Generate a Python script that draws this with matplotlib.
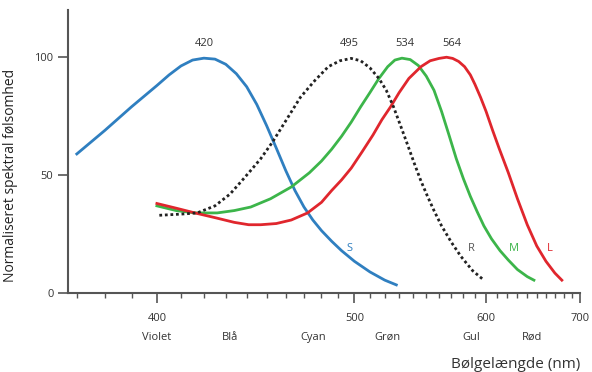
import matplotlib
matplotlib.use('Agg')
import matplotlib.pyplot as plt

plt.rcParams['font.family'] = ['Open Sans', 'DejaVu Sans']

# wavelength (nm) and normalised sensitivity
s_nm = [370, 380, 390, 400, 405, 410, 415, 420, 425, 430, 435, 440, 445, 450, 455, 460, 465, 470, 475, 480, 486, 492, 500, 510, 520, 528]
s_val = [59, 69, 79, 88, 92.5, 96.3, 98.8, 99.6, 99.2, 97, 93, 87.5, 80, 71, 61.5, 52, 43.5, 36.5, 31, 26.5, 22, 18, 13.5, 9, 5.5, 3.5]

r_nm = [401, 410, 417, 425, 432, 438, 442, 447, 453, 460, 468, 476, 484, 491, 498, 504, 510, 516, 521, 526, 531, 536, 541, 546, 551, 556, 562, 570, 578, 588, 598]
r_val = [33, 33.5, 34, 37, 42, 48, 52, 57, 64, 73, 83, 90, 96, 98.5, 99.5, 98.5, 95.5, 91, 86, 79, 71, 63, 55, 47.5, 41, 35, 28.5, 21.5, 15.5, 9.5, 5.5]

m_nm = [400, 408, 416, 426, 434, 442, 452, 463, 473, 480, 486, 492, 498, 504, 510, 516, 522, 527, 532, 538, 544, 550, 556, 562, 568, 574, 580, 586, 592, 598, 605, 613, 621, 630, 640, 647]
m_val = [37, 35, 34, 34, 35, 36.5, 40, 45, 51, 56, 61, 66.5, 72.5, 79, 85, 91, 96, 98.8, 99.6, 99, 96.5, 92, 86, 77, 67, 57, 48.5, 41, 34.5, 28.5, 23, 18, 14, 10, 7, 5.5]

l_nm = [400, 408, 416, 425, 434, 441, 447, 455, 463, 472, 480, 486, 492, 498, 505, 512, 518, 524, 530, 537, 546, 553, 560, 566, 571, 576, 581, 586, 590, 595, 600, 606, 612, 621, 630, 640, 650, 660, 670, 678]
l_val = [38, 36, 34, 32, 30, 29, 29, 29.5, 31, 34, 38.5, 43.5, 48, 53, 60, 67, 73.5, 79, 85, 91, 96, 98.5, 99.5, 100, 99.5, 98.2, 96, 92.5, 88.5, 83, 77, 69, 61.5, 51, 40, 29, 20, 13.5, 8.5, 5.5]

peak_labels = ['420', '495', '534', '564']
peak_x = [420, 497, 534, 570]

curve_names = ['S', 'R', 'M', 'L']
curve_name_x = [497, 587, 626, 664]

color_names = ['Violet', 'Blå', 'Cyan', 'Grøn', 'Gul', 'Rød']
color_x = [400, 432, 475, 522, 587, 645]

blue = '#2f7fc0'
green = '#3cb54a'
red = '#e0262d'
grey = '#555555'

fig = plt.figure(figsize=(5.92, 3.72), dpi=100)
ax = fig.add_axes([0.115, 0.212, 0.865, 0.761])

# the wavelength axis is spaced like 1/lambda
ax.set_xscale('function', functions=(lambda x: -1.0 / x, lambda y: -1.0 / y))

ax.plot(s_nm, s_val, color=blue, lw=2)
ax.plot(m_nm, m_val, color=green, lw=2)
ax.plot(l_nm, l_val, color=red, lw=2)
ax.plot(r_nm, r_val, color='#222222', lw=2, linestyle=(0, (1, 1)))

for lab, x in zip(peak_labels, peak_x):
    ax.text(x, 106, lab, ha='center', va='center', fontsize=8, color='#333333')

for name, x, c in zip(curve_names, curve_name_x, [blue, '#555555', green, red]):
    ax.text(x, 19, name, ha='center', va='center', fontsize=8, color=c)

ax.set_xlim(367, 700)
ax.set_ylim(0, 120)

ax.set_xticks([400, 500, 600, 700])
ax.set_xticks([x for x in range(370, 701, 10) if x % 100 != 0], minor=True)
ax.set_yticks([0, 50, 100])
ax.tick_params(axis='both', which='major', direction='out', length=7, width=1.2,
               color=grey, labelsize=8, labelcolor='#333333')
ax.tick_params(axis='x', which='major', pad=7)
ax.tick_params(axis='x', which='minor', direction='out', length=3.5, width=1, color=grey)

for sp in ['top', 'right']:
    ax.spines[sp].set_visible(False)
for sp in ['left', 'bottom']:
    ax.spines[sp].set_color(grey)
    ax.spines[sp].set_linewidth(1.5)

for name, x in zip(color_names, color_x):
    ax.text(x, -0.155, name, transform=ax.get_xaxis_transform(),
            ha='center', va='center', fontsize=8, color='#333333')

ax.set_xlabel('Bølgelængde (nm)', fontsize=11, color='#333333', ha='right')
ax.xaxis.set_label_coords(1.0, -0.226)
ax.set_ylabel('Normaliseret spektral følsomhed', fontsize=10, color='#222222')
ax.yaxis.set_label_coords(-0.098, 0.417)

fig.savefig('out.png', dpi=100)
